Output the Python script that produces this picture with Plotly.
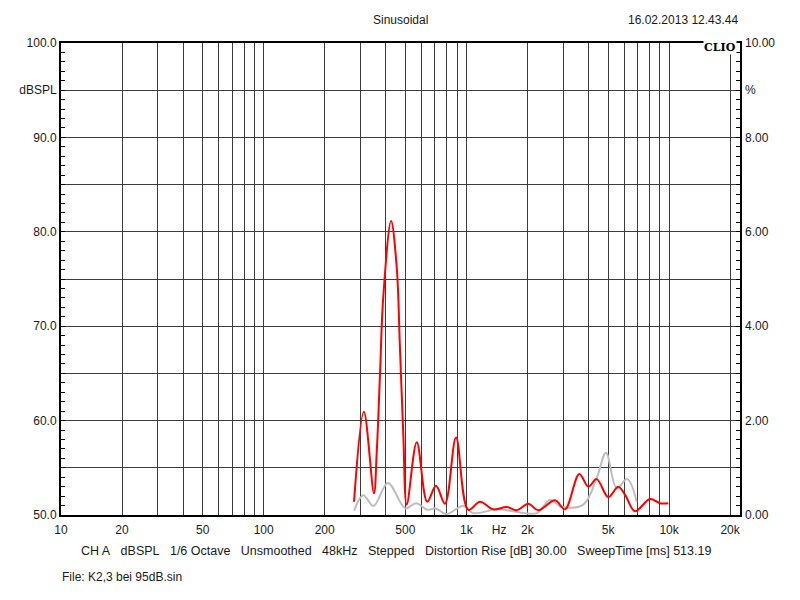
import numpy as np
import plotly.graph_objects as go

# red curve (2nd harmonic)
red_freq = [279, 312, 350, 361, 375, 389, 425, 453, 470, 488, 508, 569, 641, 708, 784,
            889, 1022, 1167, 1357, 1580, 1771, 2021, 2263, 2736, 3065, 3606, 3995, 4393,
            5012, 5614, 6059, 6788, 8054, 9020, 9910]
red_db = [51.4, 60.95, 52.3, 56.6, 65.0, 73.1, 81.15, 76.3, 67.8, 58.7, 51.1, 57.7, 51.4,
          53.1, 51.2, 58.2, 50.55, 51.4, 50.6, 50.85, 50.5, 51.2, 50.5, 51.55, 50.6, 54.35,
          53.0, 53.8, 51.9, 53.0, 52.15, 50.4, 51.7, 51.25, 51.25]

# grey curve (3rd harmonic)
grey_freq = [279, 310, 348, 410, 500, 565, 641, 705, 795, 965, 1081, 1411, 1703, 2223,
             2585, 2952, 3773, 4393, 4884, 5513, 6220, 6920]
grey_db = [50.45, 52.1, 50.95, 53.4, 50.7, 51.25, 50.55, 50.7, 50.1, 50.95, 50.2, 50.6,
           50.4, 50.2, 51.6, 50.85, 51.1, 53.9, 56.6, 52.85, 53.8, 51.4]

x_labels = ['10', '20', '50', '100', '200', '500', '1k', 'Hz', '2k', '5k', '10k', '20k']
x_label_pos = [10, 20, 50, 100, 200, 500, 1000, 1450, 2000, 5000, 10000, 20000]
x_grid = [20, 30, 40, 50, 60, 70, 80, 90, 100, 200, 300, 400, 500, 600, 700, 800, 900,
          1000, 2000, 3000, 4000, 5000, 6000, 7000, 8000, 9000, 10000, 20000]

y_ticks = [50, 55, 60, 65, 70, 75, 80, 85, 90, 95, 100]
y_labels = ['50.0', '', '60.0', '', '70.0', '', '80.0', '', '90.0', 'dBSPL', '100.0']
y2_ticks = [0, 2, 4, 6, 8, 9, 10]
y2_labels = ['0.00', '2.00', '4.00', '6.00', '8.00', '%', '10.00']

font = dict(family='Liberation Sans, Arial', size=12, color='#1a1a1a')
sp = '\u00a0' * 3

fig = go.Figure()
fig.add_trace(go.Scatter(x=grey_freq, y=grey_db, mode='lines', line_shape='spline',
                         line=dict(color='#bdbdbd', width=2), showlegend=False))
fig.add_trace(go.Scatter(x=red_freq, y=red_db, mode='lines', line_shape='spline',
                         line=dict(color='#ff0000', width=2), showlegend=False))
# dummy trace so the right axis (%) is drawn
fig.add_trace(go.Scatter(x=[100], y=[5], yaxis='y2', mode='markers',
                         marker=dict(opacity=0), showlegend=False, hoverinfo='skip'))

# page body has an 8px margin, so margins are trimmed to keep the plot box in place
fig.update_layout(
    width=800, height=600,
    margin=dict(l=53, r=68, t=35, b=93),
    paper_bgcolor='white', plot_bgcolor='white',
    font=font,
    xaxis=dict(type='log', range=[1, np.log10(22380)],
               tickvals=x_label_pos, ticktext=x_labels, ticks='', showgrid=False,
               ticklabelstandoff=3,
               minor=dict(tickvals=x_grid, showgrid=True, gridcolor='#3c3c3c',
                          gridwidth=1, ticks=''),
               showline=True, linecolor='black', linewidth=2, mirror=True,
               zeroline=False, tickfont=font),
    yaxis=dict(range=[50, 100], tickvals=y_ticks, ticktext=y_labels,
               ticks='inside', ticklen=4, tickcolor='black',
               showgrid=True, gridcolor='#3c3c3c', gridwidth=1,
               minor=dict(dtick=1, ticks='inside', ticklen=4, tickcolor='black',
                          showgrid=False),
               showline=True, linecolor='black', linewidth=2, mirror=True,
               zeroline=False, tickfont=font),
    yaxis2=dict(range=[0, 10], overlaying='y', side='right',
                tickvals=y2_ticks, ticktext=y2_labels,
                ticks='inside', ticklen=4, tickcolor='black', ticklabelstandoff=4,
                minor=dict(dtick=0.2, ticks='inside', ticklen=4, tickcolor='black'),
                showgrid=False, showline=False, zeroline=False, tickfont=font),
)

fig.add_annotation(text='Sinusoidal', xref='paper', yref='paper', x=0.4993, y=1.049,
                   yanchor='middle', showarrow=False, font=font)
fig.add_annotation(text='16.02.2013 12.43.44', xref='paper', yref='paper', x=1.0, y=1.049,
                   xanchor='right', yanchor='middle', showarrow=False, font=font)
fig.add_annotation(text='<b>CLIO</b>', xref='paper', yref='paper', x=0.996, y=0.99,
                   xanchor='right', yanchor='middle', showarrow=False,
                   bgcolor='white', borderpad=0,
                   font=dict(family='DejaVu Serif', size=11, color='black'))
fig.add_annotation(text=sp.join(['CH A', 'dBSPL', '1/6 Octave', 'Unsmoothed', '48kHz',
                                 'Stepped', 'Distortion Rise [dB] 30.00',
                                 'SweepTime [ms] 513.19']),
                   xref='paper', yref='paper', x=0.493, y=-0.0763, yanchor='middle',
                   showarrow=False,
                   font=dict(family='Liberation Sans, Arial', size=12.5, color='#1a1a1a'))
fig.add_annotation(text='File: K2,3 bei 95dB.sin', xref='paper', yref='paper',
                   x=-0.0015, y=-0.131, xanchor='left', yanchor='middle',
                   showarrow=False, font=font)

fig.write_html("out.html")
